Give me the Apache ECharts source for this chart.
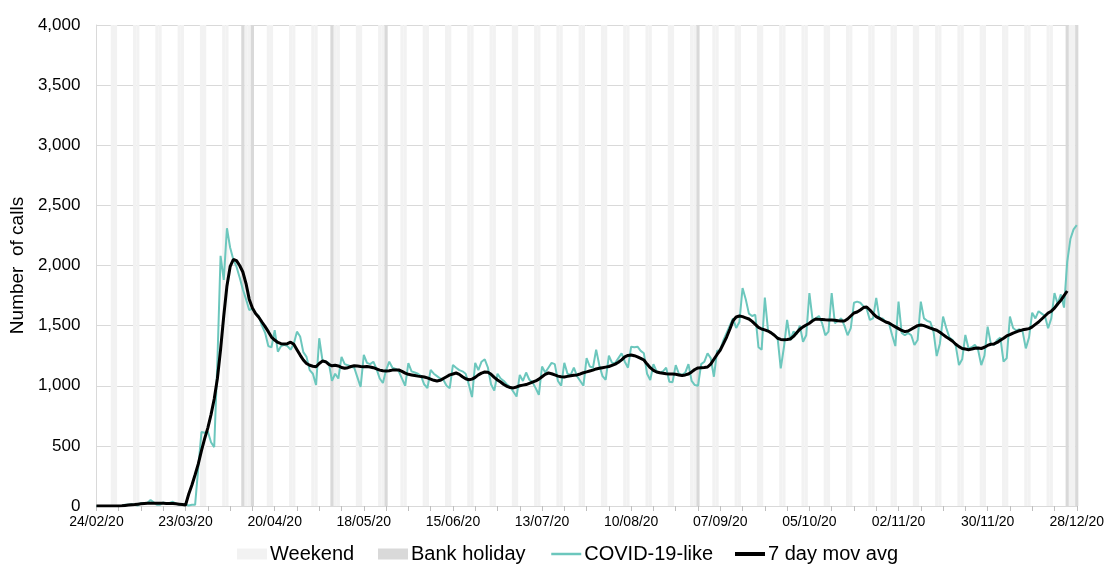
<!DOCTYPE html>
<html><head><meta charset="utf-8">
<script src="https://cdn.jsdelivr.net/npm/echarts@6/dist/echarts.min.js"></script>
<style>html,body{margin:0;padding:0;background:#fff}#c{width:1107px;height:564px}</style>
</head><body><div id="c"></div>
<script>
// ---- data ----
const startDate = [2020, 1, 24];   // 24/02/2020 (month 0-based)
const dayCount = 309;              // 24/02/20 .. 28/12/20
const bankHolidays = ['10/04/20','13/04/20','08/05/20','25/05/20','31/08/20','25/12/20','28/12/20'];
const yMax = 4000;
const yStep = 500;
const labelEvery = 28;
const tickEvery = 7;
const legendNames = ['Weekend', 'Bank holiday', 'COVID-19-like', '7 day mov avg'];

const covidLike = [
0,0,0,0,0,0,0,
0,0,10,10,15,10,5,
25,20,25,50,30,10,10,
30,20,25,35,20,10,15,
10,5,10,10,320,615,610,
620,530,490,1200,2080,1880,2310,
2150,2050,1990,1900,1800,1720,1630,
1640,1600,1580,1500,1440,1330,1320,
1463,1283,1330,1340,1330,1300,1350,
1450,1410,1280,1240,1130,1100,1006,
1395,1214,1200,1190,1040,1100,1060,
1240,1180,1170,1160,1150,1070,990,
1256,1190,1180,1200,1140,1060,1023,
1130,1200,1150,1140,1120,1060,1000,
1189,1120,1110,1100,1080,1010,981,
1131,1100,1080,1060,1050,1000,980,
1173,1150,1130,1120,1100,1010,906,
1190,1130,1200,1220,1150,1010,960,
1100,1060,1040,1010,990,950,910,
1090,1040,1110,1050,1030,980,925,
1160,1110,1150,1190,1180,1040,1000,
1190,1100,1090,1150,1080,1040,1000,
1230,1160,1150,1300,1170,1080,1050,
1250,1190,1190,1230,1270,1200,1150,
1325,1320,1325,1290,1270,1100,1048,
1180,1120,1110,1120,1150,1034,1030,
1172,1100,1090,1110,1180,1040,1006,
1000,1180,1200,1270,1230,1075,1290,
1300,1380,1440,1500,1560,1480,1530,
1813,1720,1600,1580,1590,1320,1300,
1733,1460,1440,1420,1400,1145,1320,
1547,1380,1450,1430,1500,1366,1420,
1771,1550,1560,1580,1520,1420,1450,
1771,1520,1540,1560,1500,1420,1480,
1690,1700,1690,1660,1640,1547,1560,
1730,1560,1560,1530,1520,1420,1330,
1700,1440,1420,1440,1420,1339,1380,
1700,1560,1540,1530,1450,1247,1350,
1575,1480,1400,1380,1330,1172,1220,
1422,1310,1320,1340,1300,1172,1250,
1492,1350,1340,1380,1400,1200,1230,
1575,1480,1460,1470,1450,1311,1400,
1608,1560,1620,1600,1580,1478,1560,
1771,1680,1760,1650,2030,2220,2300,
2335
];

const movAvg7 = [
0,0,0,0,0,0,0,
0,2,5,8,10,12,15,
18,20,22,22,22,22,22,
22,21,20,20,18,15,12,
8,100,175,260,350,460,560,
650,760,890,1060,1300,1580,1830,
1990,2050,2040,2000,1946,1850,1720,
1646,1600,1570,1530,1492,1450,1405,
1380,1360,1350,1347,1350,1362,1345,
1300,1255,1214,1185,1170,1162,1158,
1185,1205,1200,1178,1166,1170,1165,
1152,1145,1150,1160,1166,1164,1160,
1158,1160,1156,1150,1140,1130,1125,
1123,1125,1130,1130,1131,1120,1105,
1095,1090,1085,1080,1076,1073,1065,
1055,1045,1040,1045,1060,1075,1090,
1098,1106,1095,1075,1058,1050,1055,
1070,1090,1105,1114,1112,1095,1070,
1048,1031,1010,995,985,982,990,
1000,1005,1010,1020,1030,1040,1055,
1075,1095,1106,1100,1090,1080,1075,
1073,1078,1083,1088,1090,1098,1108,
1115,1123,1130,1140,1145,1150,1155,
1160,1170,1180,1195,1215,1240,1252,
1256,1250,1240,1228,1214,1180,1150,
1128,1114,1108,1104,1100,1098,1098,
1095,1090,1085,1090,1098,1115,1135,
1148,1150,1152,1156,1180,1220,1260,
1297,1350,1405,1470,1540,1572,1580,
1575,1565,1555,1535,1510,1485,1472,
1465,1455,1440,1420,1395,1385,1383,
1385,1389,1410,1440,1470,1490,1505,
1520,1540,1555,1552,1550,1548,1547,
1547,1545,1540,1538,1539,1555,1580,
1605,1613,1630,1650,1655,1630,1600,
1575,1560,1545,1530,1522,1505,1490,
1475,1460,1450,1455,1470,1485,1500,
1505,1500,1490,1480,1470,1462,1445,
1425,1405,1389,1370,1345,1325,1310,
1306,1300,1305,1312,1314,1310,1320,
1335,1345,1348,1360,1378,1395,1414,
1425,1438,1448,1458,1465,1470,1475,
1490,1510,1530,1555,1580,1605,1620,
1645,1680,1710,1750,1788
];

// ---- categories (dates) ----
const pad = n => (n < 10 ? '0' : '') + n;
const dates = [], dows = [];
for (let i = 0; i < dayCount; i++) {
  const d = new Date(Date.UTC(startDate[0], startDate[1], startDate[2] + i));
  dates.push(pad(d.getUTCDate()) + '/' + pad(d.getUTCMonth() + 1) + '/' + String(d.getUTCFullYear()).slice(2));
  dows.push(d.getUTCDay());
}
const weekendBand = dates.map((c, i) => (dows[i] === 0 || dows[i] === 6) ? yMax : '-');
const holidayBand = dates.map(c => bankHolidays.indexOf(c) >= 0 ? yMax : '-');

const FONT = 'Liberation Sans, Arial, sans-serif';
const legendLeft = [237, 378, 550, 733];
const legendLineWidth = [0, 0, 2.5, 4];
const legendBase = {top: 544, padding: 0, itemWidth: 30, itemHeight: 11,
  textStyle: {fontSize: 20, color: '#000', fontFamily: FONT, padding: [0, 0, 0, -2]}};
const legends = legendNames.map((n, i) => Object.assign({}, legendBase, {
  left: legendLeft[i],
  data: [i < 2 ? {name: n, icon: 'rect'}
               : {name: n, itemStyle: {opacity: 0}, lineStyle: {width: legendLineWidth[i]}}]
}));

const chart = echarts.init(document.getElementById('c'), null, {renderer: 'canvas'});
chart.setOption({
  animation: false,
  backgroundColor: '#fff',
  textStyle: {fontFamily: FONT},
  grid: {left: 96, right: 25, top: 25, bottom: 58, containLabel: false},
  legend: legends,
  xAxis: {
    type: 'category', data: dates, boundaryGap: false,
    axisLine: {lineStyle: {color: '#d9d9d9', width: 1}},
    axisTick: {interval: i => i % tickEvery === 0, length: 5, lineStyle: {color: '#bfbfbf'}},
    axisLabel: {interval: i => i % labelEvery === 0, color: '#000', fontSize: 14, margin: 9, fontFamily: FONT},
    splitLine: {show: false}
  },
  yAxis: {
    type: 'value', min: 0, max: yMax, interval: yStep,
    name: 'Number  of calls', nameLocation: 'middle', nameGap: 65,
    nameTextStyle: {fontSize: 19, color: '#000', fontFamily: FONT},
    axisLine: {show: true, lineStyle: {color: '#d9d9d9'}},
    axisTick: {show: false},
    axisLabel: {color: '#000', fontSize: 17, margin: 16, fontFamily: FONT,
      formatter: v => v.toLocaleString('en-US')},
    splitLine: {lineStyle: {color: '#d9d9d9', width: 1}}
  },
  series: [
    {name: legendNames[0], type: 'bar', data: weekendBand, barCategoryGap: '0%', barGap: '-100%',
     itemStyle: {color: '#f2f2f2'}, silent: true, z: 1},
    {name: legendNames[1], type: 'bar', data: holidayBand, barCategoryGap: '0%', barGap: '-100%',
     itemStyle: {color: '#d9d9d9'}, silent: true, z: 1},
    {name: legendNames[2], type: 'line', data: covidLike, symbol: 'none',
     lineStyle: {color: '#6cc7bd', width: 2}, itemStyle: {color: '#6cc7bd'}, z: 3},
    {name: legendNames[3], type: 'line', data: movAvg7, symbol: 'none',
     lineStyle: {color: '#000', width: 3}, itemStyle: {color: '#000'}, z: 4}
  ]
});
</script>
</body></html>
